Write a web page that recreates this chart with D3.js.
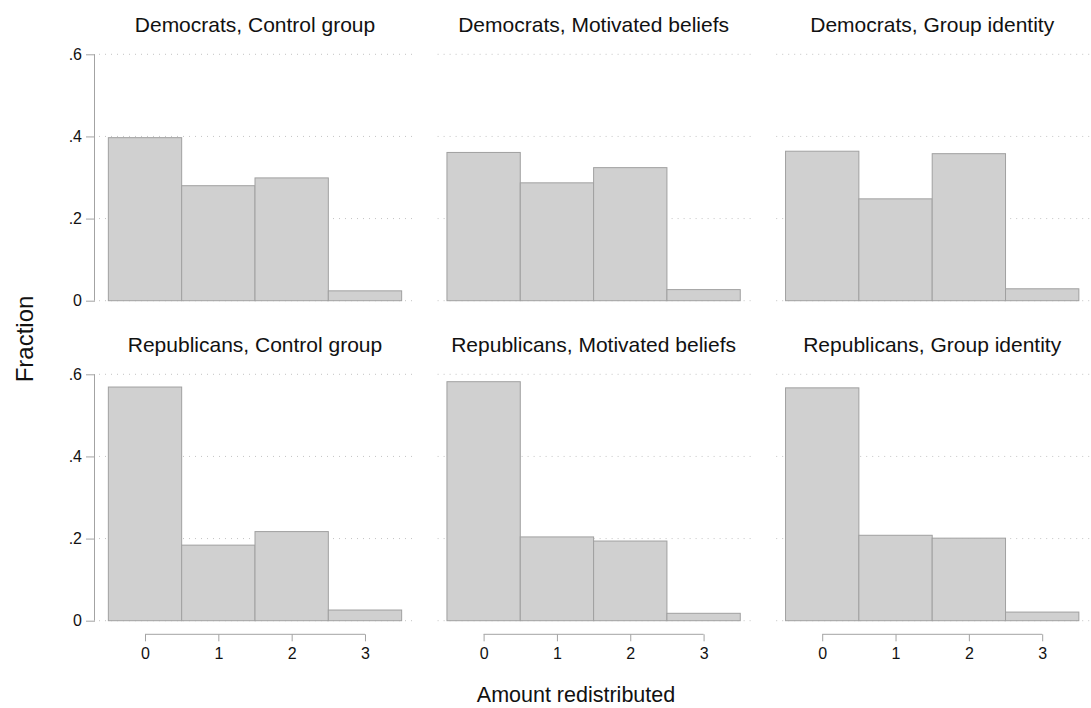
<!DOCTYPE html>
<html>
<head>
<meta charset="utf-8">
<script src="https://cdn.jsdelivr.net/npm/d3@7"></script>
<style>
  html, body { margin: 0; padding: 0; background: #fff; }
  svg { display: block; font-family: "Liberation Sans", Arial, Helvetica, sans-serif; }
</style>
</head>
<body>
<svg id="chart" width="1091" height="708"></svg>
<script>
// Histogram of amount redistributed, by party and treatment arm
const parties = ["Democrats", "Republicans"];
const treatments = ["Control group", "Motivated beliefs", "Group identity"];
const amounts = [0, 1, 2, 3];
const xTickLabels = ["0", "1", "2", "3"];
const yTicks = [0, 0.2, 0.4, 0.6];
const yTickLabels = ["0", ".2", ".4", ".6"];

// Fraction of respondents in each bin (rows: treatment, cols: amount)
const democratFractions = [
  [0.397, 0.280, 0.299, 0.024],
  [0.361, 0.287, 0.324, 0.027],
  [0.364, 0.248, 0.358, 0.029]
];
const republicanFractions = [
  [0.569, 0.184, 0.217, 0.026],
  [0.582, 0.204, 0.194, 0.018],
  [0.567, 0.208, 0.201, 0.021]
];
const fractionsByParty = [democratFractions, republicanFractions];

const svg = d3.select("#chart");

const panelW = 320, panelH = 246.4;
const panelLeft = [95, 433.6, 772.2];
const panelTop = [54.3, 374.3];

const x = d3.scaleLinear().domain([-0.682, 3.682]).range([0, panelW]);
const y = d3.scaleLinear().domain([0, 0.6]).range([panelH, 0]);

const fontFamily = "'Liberation Sans', Arial, Helvetica, sans-serif";
const gridColor = "#c4c4c4";
const axisColor = "#a3a3a3";
const barFill = "#d0d0d0";
const barStroke = "#a0a0a0";

parties.forEach((party, r) => {
  treatments.forEach((treat, c) => {
    const g = svg.append("g")
      .attr("transform", `translate(${panelLeft[c]},${panelTop[r]})`);

    // dotted horizontal grid
    g.selectAll("line.grid").data(yTicks).join("line")
      .attr("class", "grid")
      .attr("x1", 4).attr("x2", panelW)
      .attr("y1", d => y(d)).attr("y2", d => y(d))
      .attr("stroke", gridColor).attr("stroke-width", 1)
      .attr("stroke-dasharray", "1,5");

    // bars, one unit wide centred on each amount
    const vals = fractionsByParty[r][c];
    g.selectAll("rect.bar").data(amounts).join("rect")
      .attr("class", "bar")
      .attr("x", d => x(d - 0.5))
      .attr("width", d => x(d + 0.5) - x(d - 0.5))
      .attr("y", (d, i) => y(vals[i]))
      .attr("height", (d, i) => y(0) - y(vals[i]))
      .attr("fill", barFill)
      .attr("stroke", barStroke)
      .attr("stroke-width", 1);

    // panel title
    svg.append("text")
      .attr("x", panelLeft[c] + panelW / 2)
      .attr("y", panelTop[r] - 22.5)
      .attr("text-anchor", "middle")
      .attr("font-size", 21)
      .attr("fill", "#111")
      .text(`${party}, ${treat}`);

    // y axis on the left column
    if (c === 0) {
      const ya = d3.axisLeft(y).tickValues(yTicks)
        .tickFormat((d, i) => yTickLabels[i])
        .tickSize(9).tickPadding(4);
      const ag = g.append("g").call(ya)
        .attr("font-size", 16).attr("font-family", fontFamily);
      ag.select(".domain").attr("stroke", axisColor).attr("d", `M-0.5,${y(0)}V${y(0.6)}`);
      ag.selectAll(".tick line").attr("stroke", axisColor);
      ag.selectAll(".tick text").attr("fill", "#111");
    }

    // x axis on the bottom row
    if (r === parties.length - 1) {
      const xa = d3.axisBottom(x).tickValues(amounts)
        .tickFormat((d, i) => xTickLabels[i])
        .tickSize(7).tickPadding(6);
      const ag = g.append("g").attr("transform", `translate(0,${panelH + 13.6})`).call(xa)
        .attr("font-size", 16).attr("font-family", fontFamily);
      ag.select(".domain").attr("stroke", axisColor).attr("d", `M${x(0)},0H${x(3)}`);
      ag.selectAll(".tick line").attr("stroke", axisColor);
      ag.selectAll(".tick text").attr("fill", "#111");
    }
  });
});

// axis titles
svg.append("text")
  .attr("transform", "translate(33,339) rotate(-90)")
  .attr("text-anchor", "middle")
  .attr("font-size", 24)
  .attr("fill", "#111")
  .text("Fraction");

svg.append("text")
  .attr("x", 576).attr("y", 702)
  .attr("text-anchor", "middle")
  .attr("font-size", 21.5)
  .attr("fill", "#111")
  .text("Amount redistributed");
</script>
</body>
</html>
